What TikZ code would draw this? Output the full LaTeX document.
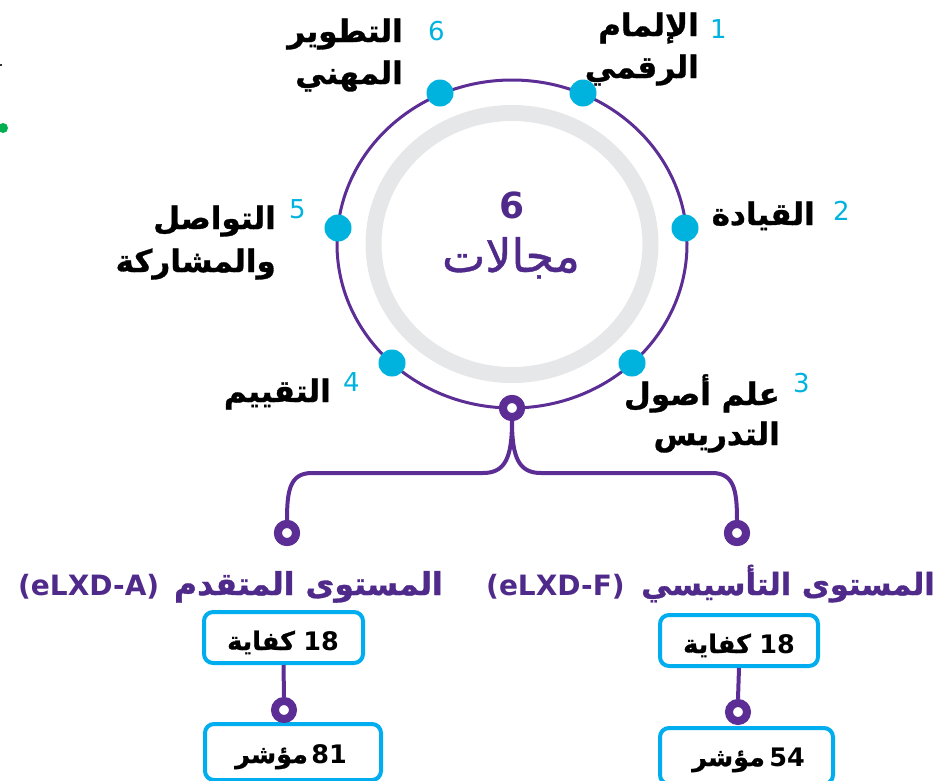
\documentclass[tikz,border=0pt]{standalone}
\usepackage{fontspec}
\setmainfont{DejaVu Sans}
\newfontfamily\ar[Script=Arabic]{DejaVu Sans}
\newfontfamily\arh[Script=Arabic, FakeBold=1]{DejaVu Sans Bold}
\newfontfamily\arm[Script=Arabic, FakeBold=0.8]{DejaVu Sans}
\TeXXeTstate=1
\definecolor{ringc}{HTML}{5B2D95}
\definecolor{ptext}{HTML}{4F2A8A}
\definecolor{cyc}{HTML}{00B3DE}
\definecolor{boxc}{HTML}{00AEEF}
\definecolor{grayring}{HTML}{E6E7E8}
\definecolor{greenc}{HTML}{00B050}
\begin{document}
\begin{tikzpicture}[x=1pt,y=-1pt,
  lbl/.style={inner sep=0pt, anchor=base east, font=\arh\fontsize{31}{36}\selectfont, text=black},
  num/.style={inner sep=0pt, anchor=base west, font=\fontsize{26}{30}\selectfont, text=cyc},
  dot/.style={circle, fill=cyc, minimum size=27pt, inner sep=0pt},
  hub/.style={circle, draw=ringc, line width=8pt, fill=white, minimum size=18pt, inner sep=0pt},
  conn/.style={draw=ringc, line width=4pt},
  lvlL/.style={inner sep=0pt, anchor=base west, font=\bfseries\fontsize{28}{34}\selectfont, text=ptext},
  lvlR/.style={inner sep=0pt, anchor=base east, text=ptext},
  cbox/.style={draw=boxc, line width=4pt, fill=white, rounded corners=9pt, inner sep=0pt},
  bnum/.style={inner sep=0pt, anchor=base east, font=\bfseries\fontsize{25.5}{30}\selectfont, text=black},
  bword/.style={inner sep=0pt, anchor=base west, font=\arh\fontsize{25.5}{30}\selectfont, text=black}
]
\useasboundingbox (0,0) rectangle (938,780);
% stray marks at left edge
\fill[greenc] (3,128) circle (5pt);
\draw[black!80, line width=1.5pt] (0,65) -- (2,65);
% rings
\draw[grayring, line width=16pt] (512,244) ellipse [x radius=138.5pt, y radius=131pt];
\draw[ringc, line width=3pt] (512,244) ellipse [x radius=175pt, y radius=164pt];
% dots
\node[dot] (d1) at (583,93) {};
\node[dot] (d2) at (685,228) {};
\node[dot] (d3) at (632,363) {};
\node[dot] (d4) at (392,363) {};
\node[dot] (d5) at (338,228) {};
\node[dot] (d6) at (440,93) {};
% center text
\node[inner sep=0pt, anchor=base, font=\bfseries\fontsize{36}{40}\selectfont, text=ptext] (c6) at (512,218) {6};
\node[inner sep=0pt, anchor=base, font=\arm\fontsize{46}{50}\selectfont, text=ptext] (cm) at (511,272) {\beginR مجالات\endR};
% numbers
\node[num] (n1) at (710,38) {1};
\node[num] (n2) at (833,220) {2};
\node[num] (n3) at (793,392) {3};
\node[num] (n4) at (343,391) {4};
\node[num] (n5) at (289,218) {5};
\node[num] (n6) at (428,40) {6};
% labels
\node[lbl] (l1a) at (699,36) {\beginR الإلمام\endR};
\node[lbl] (l1b) at (699,78) {\beginR الرقمي\endR};
\node[lbl] (l2) at (815,225) {\beginR القيادة\endR};
\node[lbl] (l3a) at (780,405) {\beginR علم أصول\endR};
\node[lbl] (l3b) at (780,445) {\beginR التدريس\endR};
\node[lbl] (l4) at (331,402) {\beginR التقييم\endR};
\node[lbl] (l5a) at (276,229) {\beginR التواصل\endR};
\node[lbl] (l5b) at (276,272) {\beginR والمشاركة\endR};
\node[lbl] (l6a) at (403,42) {\beginR التطوير\endR};
\node[lbl] (l6b) at (403,84) {\beginR المهني\endR};
% hub and branches
\node[hub] (h0) at (512,408) {};
\node[hub] (hl) at (287,533) {};
\node[hub] (hr) at (737,533) {};
\draw[conn] (h0.south) .. controls (512,458) and (505,473) .. (483,473) -- (312,473) .. controls (290,473) and (287,490) .. (hl.north);
\draw[conn] (h0.south) .. controls (512,458) and (519,473) .. (541,473) -- (712,473) .. controls (734,473) and (737,490) .. (hr.north);
\node[hub] at (h0) {};
\node[hub] at (hl) {};
\node[hub] at (hr) {};
% level titles
\node[lvlL] (taL) at (18,595) {(eLXD-A)};
\node[lvlR, font=\arh\fontsize{31.5}{36}\selectfont] (taR) at (443,595) {\beginR المستوى المتقدم\endR};
\node[lvlL] (tfL) at (486,595) {(eLXD-F)};
\node[lvlR, font=\arh\fontsize{30.5}{36}\selectfont] (tfR) at (935,595) {\beginR المستوى التأسيسي\endR};
% boxes
\node[cbox, minimum width=159pt, minimum height=51pt] (bl1) at (283.5,637.5) {};
\node[cbox, minimum width=158pt, minimum height=51pt] (br1) at (739,640.5) {};
\node[cbox, minimum width=176pt, minimum height=56pt] (bl2) at (293,752) {};
\node[cbox, minimum width=173pt, minimum height=56pt] (br2) at (746.5,756) {};
\node[bword] (bl1w) at (227,650) {\beginR كفاية\endR};
\node[bnum] (bl1n) at (339,650) {18};
\node[bword] (br1w) at (683,653) {\beginR كفاية\endR};
\node[bnum] (br1n) at (795,653) {18};
\node[bword] (bl2w) at (235,763) {\beginR مؤشر\endR};
\node[bnum] (bl2n) at (347,763) {81};
\node[bword] (br2w) at (692,766) {\beginR مؤشر\endR};
\node[bnum] (br2n) at (805,766) {54};
\node[hub] (hl2) at (284,710) {};
\node[hub] (hr2) at (738,712) {};
\draw[conn] (bl1.south) -- (hl2.north);
\draw[conn] (br1.south) -- (hr2.north);
\end{tikzpicture}
\end{document}
